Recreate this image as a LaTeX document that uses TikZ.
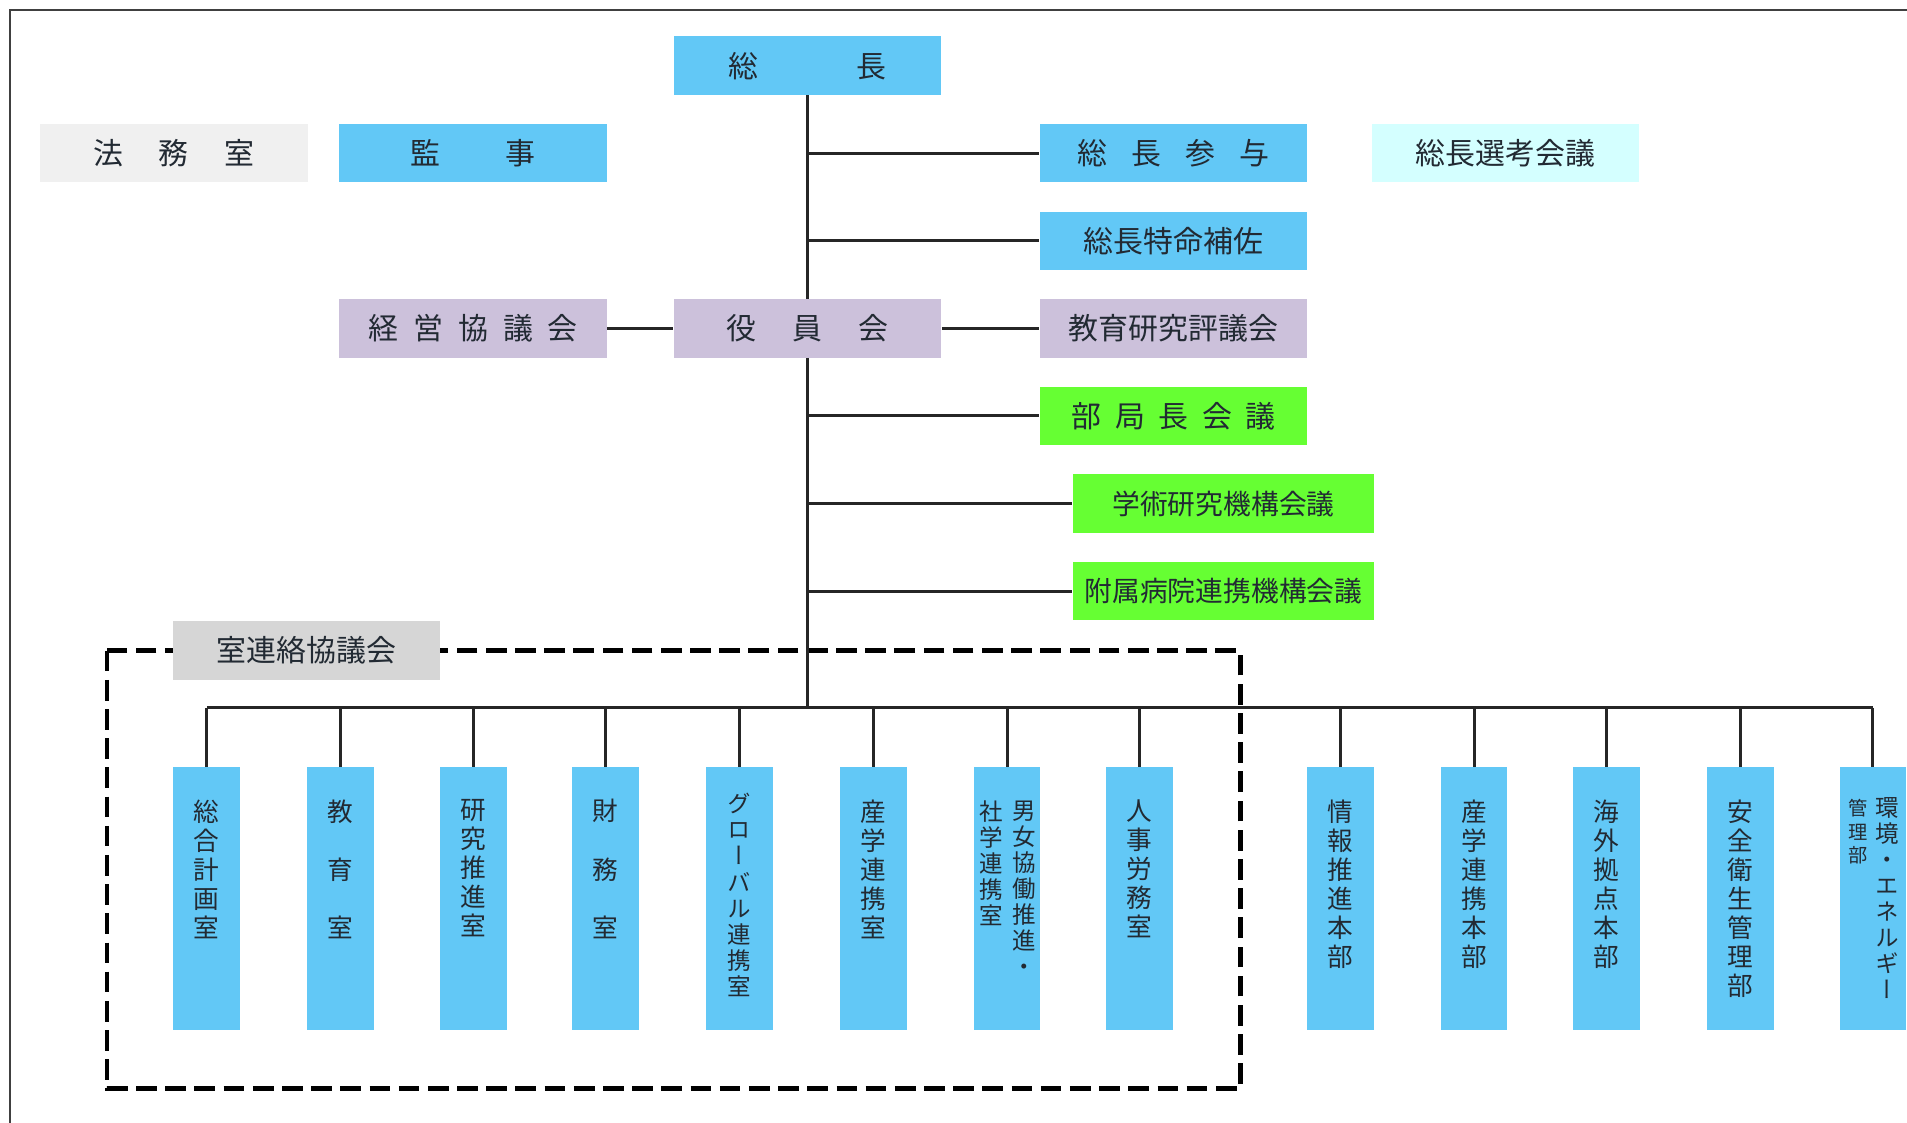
\documentclass[tikz,border=0pt]{standalone}
\usepackage{fontspec}
\setmainfont{Noto Sans CJK JP}
\newfontfamily\vjp[RawFeature=+vert]{Noto Sans CJK JP}
\definecolor{skyblue}{HTML}{62C8F6}
\definecolor{lilac}{HTML}{CCC1DB}
\definecolor{lime}{HTML}{66FF33}
\definecolor{paleaqua}{HTML}{D4FFFF}
\definecolor{palegray}{HTML}{F0F0F0}
\definecolor{midgray}{HTML}{D6D6D6}
\definecolor{inkc}{HTML}{222A33}
\begin{document}
\begin{tikzpicture}[x=0.02cm,y=-0.02cm,
	hbox/.style={minimum width=4.4cm,minimum height=0.96cm,inner sep=0pt,text=inkc,font=\fontsize{14}{16}\selectfont},
	widebox/.style={hbox,minimum width=4.96cm,font=\fontsize{13}{15}\selectfont},
	vbox/.style={minimum width=1.1cm,minimum height=4.32cm,inner sep=0pt,fill=skyblue},
	vlab/.style={anchor=north,inner sep=0pt,align=center,text=inkc,font=\vjp\fontsize{12}{13.6}\selectfont},
	vsmall/.style={vlab,font=\vjp\fontsize{11}{12.2}\selectfont},
	link/.style={line width=1.4pt,color=black!85}]
	
	\useasboundingbox (0,0) rectangle (1568,923);
	\draw [line width=0.9pt,color=black!75](1568,8)--(8,8)--(8,923);
	
	% top of the chart
	\node[hbox,fill=skyblue] (socho) at (664,54){総\hspace{3.3em}長};
	\node[hbox,fill=palegray] (homu) at (143,126){法\hspace{1.2em}務\hspace{1.2em}室};
	\node[hbox,fill=skyblue] (kanji) at (389,126){監\hspace{2.2em}事};
	\node[hbox,fill=skyblue] (sanyo) at (965,126){総\hspace{0.8em}長\hspace{0.8em}参\hspace{0.8em}与};
	\node[hbox,fill=paleaqua] (senko) at (1238,126){総長選考会議};
	\node[hbox,fill=skyblue] (tokumei) at (965,198){総長特命補佐};
	
	\node[hbox,fill=lilac] (keiei) at (389,270){経\hspace{0.5em}営\hspace{0.5em}協\hspace{0.5em}議\hspace{0.5em}会};
	\node[hbox,fill=lilac] (yakuin) at (664,270){役\hspace{1.2em}員\hspace{1.2em}会};
	\node[hbox,fill=lilac] (hyogi) at (965,270){教育研究評議会};
	
	\node[hbox,fill=lime] (bukyoku) at (965,342){部\hspace{0.45em}局\hspace{0.45em}長\hspace{0.45em}会\hspace{0.45em}議};
	\node[widebox,fill=lime] (gakujutsu) at (1006,414){学術研究機構会議};
	\node[widebox,fill=lime] (fuzoku) at (1006,486){附属病院連携機構会議};
	
	\draw [link](socho.south)--(yakuin.north);
	\draw [link](sanyo.west -| socho.south)--(sanyo.west);
	\draw [link](tokumei.west -| socho.south)--(tokumei.west);
	\draw [link](keiei.east)--(yakuin.west);
	\draw [link](yakuin.east)--(hyogi.west);
	\draw [link](bukyoku.west -| socho.south)--(bukyoku.west);
	\draw [link](gakujutsu.west -| socho.south)--(gakujutsu.west);
	\draw [link](fuzoku.west -| socho.south)--(fuzoku.west);
	
	% group of offices
	\draw [line width=2.2pt,dash pattern=on 0.34cm off 0.14cm](88,535) rectangle (1020,895);
	\node[hbox,fill=midgray] (renraku) at (252,535){室連絡協議会};
	
	\node[vbox] (b1) at (170,739){};
	\node[vbox] (b2) at (280,739){};
	\node[vbox] (b3) at (389,739){};
	\node[vbox] (b4) at (498,739){};
	\node[vbox] (b5) at (608,739){};
	\node[vbox] (b6) at (718,739){};
	\node[vbox] (b7) at (828,739){};
	\node[vbox] (b8) at (937,739){};
	\node[vbox] (b9) at (1102,739){};
	\node[vbox] (b10) at (1212,739){};
	\node[vbox] (b11) at (1321,739){};
	\node[vbox] (b12) at (1431,739){};
	\node[vbox] (b13) at (1540,739){};
	
	\node[vlab] (t1) at (170,657){総\\合\\計\\画\\室};
	\node[vlab] (t2) at (280,657){教\\[13.6pt]育\\[13.6pt]室};
	\node[vlab] (t3) at (389,657){研\\究\\推\\進\\室};
	\node[vlab] (t4) at (498,657){財\\[13.6pt]務\\[13.6pt]室};
	\node[vsmall] (t5) at (608,652){グ\\ロ\\ー\\バ\\ル\\連\\携\\室};
	\node[vlab] (t6) at (718,657){産\\学\\連\\携\\室};
	\node[vsmall] (t7a) at (842,658){男\\女\\協\\働\\推\\進\\・};
	\node[vsmall] (t7b) at (815,658){社\\学\\連\\携\\室};
	\node[vlab] (t8) at (937,657){人\\事\\労\\務\\室};
	\node[vlab] (t9) at (1102,657){情\\報\\推\\進\\本\\部};
	\node[vlab] (t10) at (1212,657){産\\学\\連\\携\\本\\部};
	\node[vlab] (t11) at (1321,657){海\\外\\拠\\点\\本\\部};
	\node[vlab] (t12) at (1431,657){安\\全\\衛\\生\\管\\理\\部};
	\node[vsmall] (t13a) at (1552,655){環\\境\\・\\エ\\ネ\\ル\\ギ\\ー};
	\node[vlab,font=\vjp\fontsize{9}{11}\selectfont] (t13b) at (1528,657){管\\理\\部};
	
	% bus line
	\coordinate (bus) at (664,582);
	\draw [link](yakuin.south)--(bus);
	\draw [link](b1.north |- bus)--(b13.north |- bus);
	\draw [link](b1.north |- bus)--(b1.north);
	\draw [link](b2.north |- bus)--(b2.north);
	\draw [link](b3.north |- bus)--(b3.north);
	\draw [link](b4.north |- bus)--(b4.north);
	\draw [link](b5.north |- bus)--(b5.north);
	\draw [link](b6.north |- bus)--(b6.north);
	\draw [link](b7.north |- bus)--(b7.north);
	\draw [link](b8.north |- bus)--(b8.north);
	\draw [link](b9.north |- bus)--(b9.north);
	\draw [link](b10.north |- bus)--(b10.north);
	\draw [link](b11.north |- bus)--(b11.north);
	\draw [link](b12.north |- bus)--(b12.north);
	\draw [link](b13.north |- bus)--(b13.north);
	
\end{tikzpicture}
\end{document}
